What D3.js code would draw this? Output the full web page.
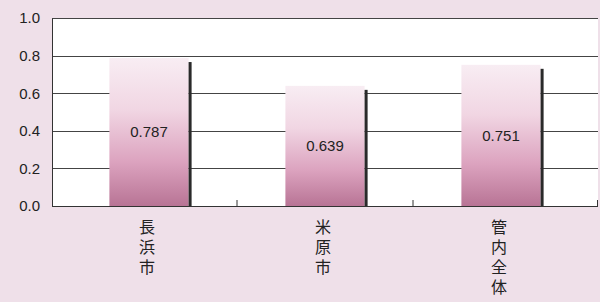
<!DOCTYPE html>
<html>
<head>
<meta charset="utf-8">
<script src="https://cdn.jsdelivr.net/npm/d3@7"></script>
<style>
  body { margin: 0; background: #efe0e9; }
  svg { display: block; }
  text { font-family: "Liberation Sans", Arial, sans-serif; fill: #222; }
  .cat { font-family: "Noto Sans CJK JP", sans-serif; writing-mode: vertical-rl; text-orientation: upright; }
</style>
</head>
<body>
<script>
  var width = 600;
  var height = 302;
  var margin = { top: 18, left: 52, right: 2, bottom: 96 };

  // data
  var categories = ["長浜市", "米原市", "管内全体"];
  var values = [0.787, 0.639, 0.751];
  var yTicks = [0, 0.2, 0.4, 0.6, 0.8, 1.0];

  var svg = d3.select("body")
    .append("svg")
    .attr("width", width)
    .attr("height", height);

  var defs = svg.append("defs");
  var grad = defs.append("linearGradient")
    .attr("id", "barGrad")
    .attr("x1", 0).attr("y1", 0).attr("x2", 0).attr("y2", 1);
  grad.append("stop").attr("offset", "0%").attr("stop-color", "#f8edf3");
  grad.append("stop").attr("offset", "35%").attr("stop-color", "#f1d6e3");
  grad.append("stop").attr("offset", "70%").attr("stop-color", "#dca3bf");
  grad.append("stop").attr("offset", "100%").attr("stop-color", "#b87495");

  var plotLeft = margin.left;
  var plotRight = width - margin.right;
  var plotBottom = height - margin.bottom;

  var yScale = d3.scaleLinear()
    .domain([0, 1])
    .range([plotBottom, margin.top]);

  var xScale = d3.scaleBand()
    .domain(categories)
    .range([61, 589])
    .paddingInner(0.55)
    .paddingOuter(0.275);

  // plot area
  svg.append("rect")
    .attr("x", plotLeft)
    .attr("y", margin.top)
    .attr("width", plotRight - plotLeft)
    .attr("height", plotBottom - margin.top)
    .attr("fill", "#fff");

  // gridlines
  svg.append("g")
    .selectAll("line")
    .data(yTicks.filter(function(d) { return d > 0; }))
    .enter()
    .append("line")
    .attr("x1", plotLeft)
    .attr("x2", plotRight)
    .attr("y1", function(d) { return Math.round(yScale(d)) + 0.5; })
    .attr("y2", function(d) { return Math.round(yScale(d)) + 0.5; })
    .attr("stroke", "#444")
    .attr("stroke-width", 1);

  // bars
  var bars = svg.append("g")
    .selectAll("g")
    .data(categories)
    .enter()
    .append("g");

  bars.append("rect")
    .attr("x", function(d) { return xScale(d); })
    .attr("y", function(d, i) { return yScale(values[i]); })
    .attr("width", xScale.bandwidth())
    .attr("height", function(d, i) { return plotBottom - yScale(values[i]); })
    .attr("fill", "url(#barGrad)");

  bars.append("rect")
    .attr("x", function(d) { return xScale(d) + xScale.bandwidth(); })
    .attr("y", function(d, i) { return yScale(values[i]) + 4; })
    .attr("width", 3)
    .attr("height", function(d, i) { return plotBottom - yScale(values[i]) - 4; })
    .attr("fill", "#2a2a2a");

  bars.append("text")
    .attr("x", function(d) { return xScale(d) + xScale.bandwidth() / 2; })
    .attr("y", function(d, i) { return (yScale(values[i]) + plotBottom) / 2; })
    .attr("dy", "0.35em")
    .attr("text-anchor", "middle")
    .style("font-size", "15px")
    .text(function(d, i) { return values[i].toFixed(3); });

  // y axis
  var yAxis = svg.append("g")
    .attr("transform", "translate(" + plotLeft + ",0)")
    .call(d3.axisLeft(yScale).tickValues(yTicks).tickSize(0).tickPadding(12)
      .tickFormat(d3.format(".1f")));
  yAxis.select(".domain").attr("stroke", "#333");
  yAxis.selectAll("text")
    .style("font-size", "15px")
    .style("font-family", "\"Liberation Sans\", Arial, sans-serif")
    .attr("fill", "#222");

  // x axis line
  svg.append("line")
    .attr("x1", plotLeft)
    .attr("x2", plotRight)
    .attr("y1", plotBottom + 0.5)
    .attr("y2", plotBottom + 0.5)
    .attr("stroke", "#333");

  // inward category ticks
  var tickPos = [xScale.step() + 61, 2 * xScale.step() + 61, plotRight - 0.5];
  svg.append("g")
    .selectAll("line")
    .data(tickPos)
    .enter()
    .append("line")
    .attr("x1", function(d) { return d; })
    .attr("x2", function(d) { return d; })
    .attr("y1", plotBottom - 6)
    .attr("y2", plotBottom)
    .attr("stroke", "#333");

  // vertical category labels
  svg.append("g")
    .selectAll("text")
    .data(categories)
    .enter()
    .append("text")
    .attr("class", "cat")
    .style("font-size", "16px")
    .style("letter-spacing", "4px")
    .attr("x", function(d) { return xScale(d) + xScale.bandwidth() / 2 - 2; })
    .attr("y", 219)
    .text(function(d) { return d; });
</script>
</body>
</html>
